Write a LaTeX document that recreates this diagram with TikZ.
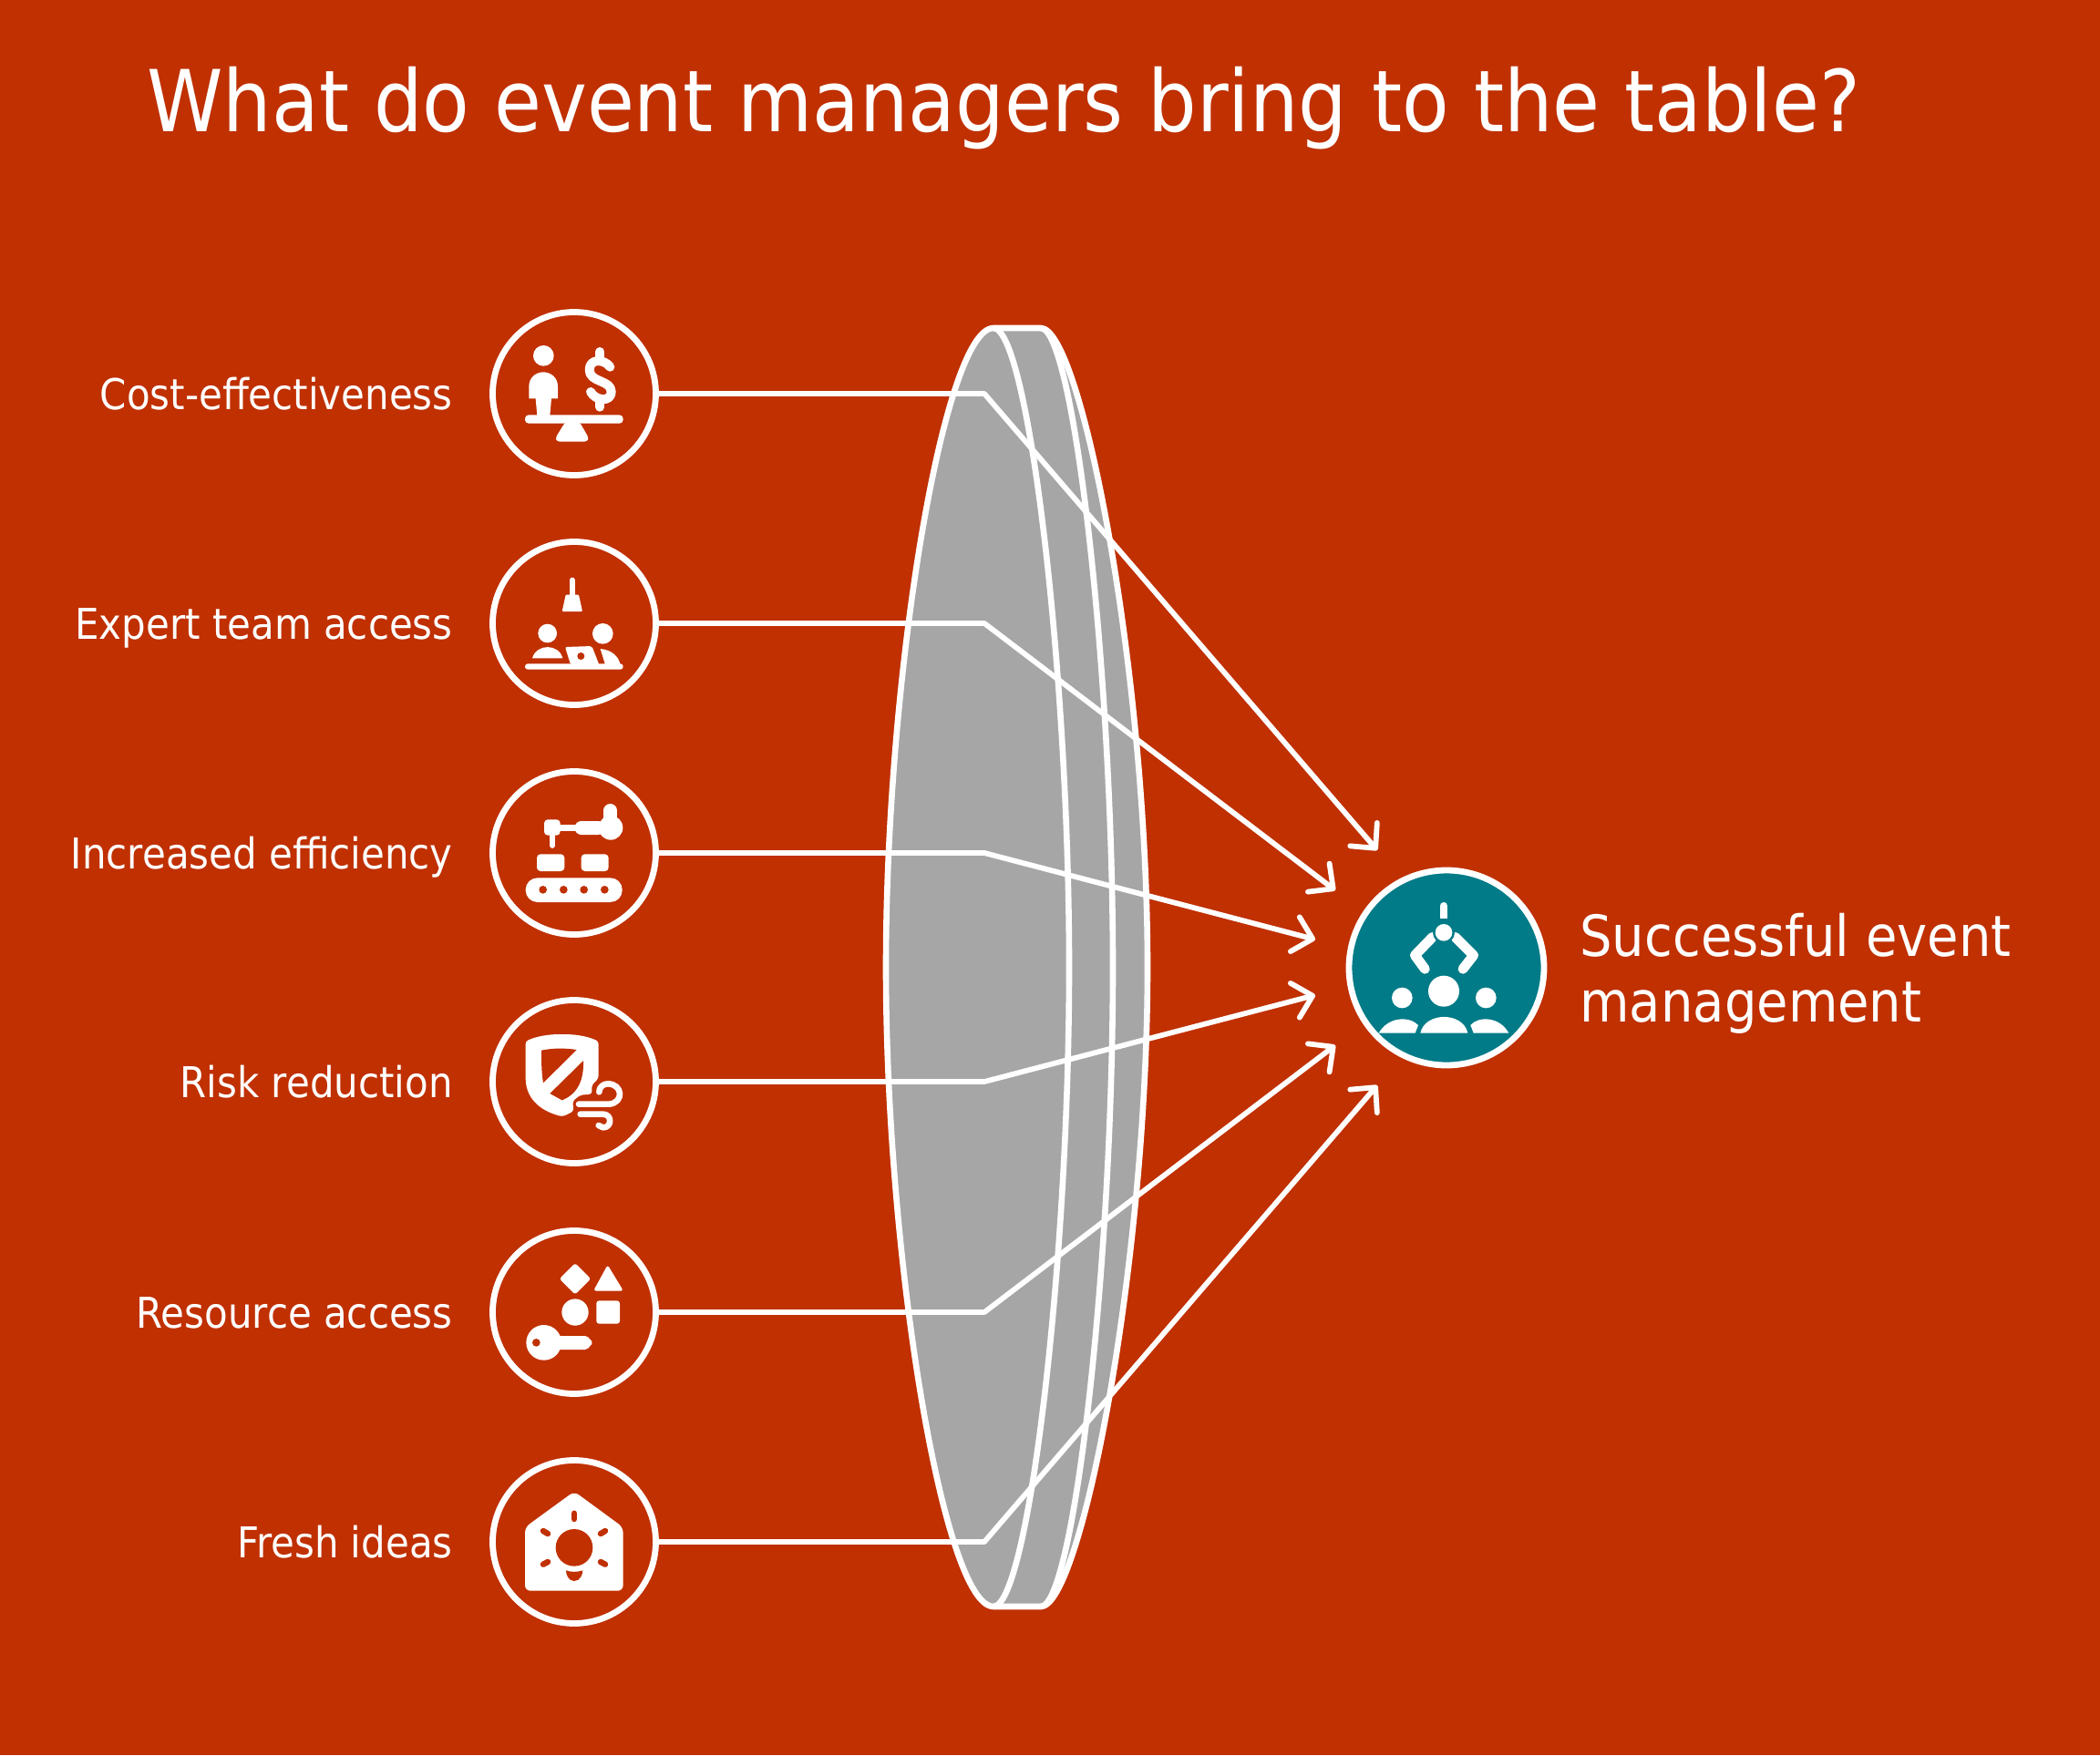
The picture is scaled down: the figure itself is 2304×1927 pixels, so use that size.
\documentclass[tikz,border=0pt]{standalone}
\usepackage{fontspec}
\usepackage{xcolor}
\usetikzlibrary{arrows.meta}
\setmainfont{DejaVu Sans}[FakeStretch=0.9]
\definecolor{bgred}{HTML}{C03000}
\definecolor{tealdisc}{HTML}{007B87}
\definecolor{lensgray}{HTML}{A6A6A6}
\tikzset{
    disc/.style={circle,draw=white,line width=3.4pt,inner sep=0pt,minimum size=89.5pt},
    factor/.style={anchor=base east,text=white,inner sep=0pt,font=\fontsize{23.3}{28}\selectfont},
    lens/.style={draw=white,line width=3.3pt,line join=round},
    link/.style={draw=white,line width=2.9pt,line join=round,
        -{Straight Barb[length=10pt,width=19.5pt,round]}},
    crop/.style 2 args={shift={(#1,#2)},x=0.16667pt,y=-0.16667pt},
    ink/.style={fill=white,draw=none},
    hole/.style={fill=#1,draw=none},
    hole/.default=bgred,
    pen/.style={draw=white,line width=#1,line cap=round,line join=round},
    gap/.style={draw=bgred,line width=#1,line cap=round},
}
\begin{document}
\begin{tikzpicture}[x=0.5pt,y=-0.5pt]
    \useasboundingbox (0,0) rectangle (2304,1927);
    \fill[white] (0,0) rectangle (2304,1927);
    \fill[bgred] (0,0) rectangle (2304,1926);

    \node[anchor=base west,text=white,inner sep=0pt,font=\fontsize{46.9}{56}\selectfont] (title) at (161,144) {What do event managers bring to the table?};

    % lens
    \path[lens,fill=lensgray] (1090,360) .. controls (1036,360) and (972,738) .. (972,1061.5) .. controls (972,1385) and (1036,1763) .. (1090,1763) -- (1142,1763) .. controls (1186,1763) and (1259,1385) .. (1259,1061.5) .. controls (1259,738) and (1186,360) .. (1142,360) -- cycle;
    \draw[lens] (1090,360) .. controls (1128,360) and (1173,738) .. (1173,1061.5) .. controls (1173,1385) and (1128,1763) .. (1090,1763);
    \draw[lens] (1142,360) .. controls (1178,360) and (1221,738) .. (1221,1061.5) .. controls (1221,1385) and (1178,1763) .. (1142,1763);

    % discs and labels
    \node[disc] (cost) at (630,432) {};
    \node[disc] (expert) at (630,684) {};
    \node[disc] (efficiency) at (630,936) {};
    \node[disc] (risk) at (630,1187) {};
    \node[disc] (resource) at (630,1440) {};
    \node[disc] (fresh) at (630,1692) {};
    \node[disc,fill=tealdisc,minimum size=107pt] (success) at (1587,1062) {};

    \node[factor] (costlabel) at (497,449) {Cost-effectiveness};
    \node[factor] (expertlabel) at (497,701) {Expert team access};
    \node[factor] (efficiencylabel) at (497,953) {Increased efficiency};
    \node[factor] (risklabel) at (497,1204) {Risk reduction};
    \node[factor] (resourcelabel) at (497,1457) {Resource access};
    \node[factor] (freshlabel) at (497,1709) {Fresh ideas};
    \node[anchor=base west,text=white,inner sep=0pt,align=left,font=\fontsize{31.1}{35.9}\selectfont] (successlabel) at (1733,1121) {Successful event\\management};

    % connectors
    \coordinate (costbend) at (1080,432);
    \coordinate (expertbend) at (1080,684);
    \coordinate (efficiencybend) at (1080,936);
    \coordinate (riskbend) at (1080,1187);
    \coordinate (resourcebend) at (1080,1440);
    \coordinate (freshbend) at (1080,1692);
    \coordinate (costtip) at (1511,933);
    \coordinate (experttip) at (1465,977);
    \coordinate (efficiencytip) at (1443,1031);
    \coordinate (risktip) at (1443,1092);
    \coordinate (resourcetip) at (1465,1147);
    \coordinate (freshtip) at (1511,1191);
    \draw[link] (cost.east) -- (costbend) -- (costtip);
    \draw[link] (expert.east) -- (expertbend) -- (experttip);
    \draw[link] (efficiency.east) -- (efficiencybend) -- (efficiencytip);
    \draw[link] (risk.east) -- (riskbend) -- (risktip);
    \draw[link] (resource.east) -- (resourcebend) -- (resourcetip);
    \draw[link] (fresh.east) -- (freshbend) -- (freshtip);

    % cost icon
    \begin{scope}[crop={520}{320}]
        \fill[ink] (229,211) circle (34);
        \fill[ink] (181,352) -- (181,312) .. controls (181,282) and (205,265) .. (228,265) .. controls (252,265) and (276,282) .. (276,312) -- (276,352) -- (255,352) -- (250,408) -- (208,408) -- (203,352) -- cycle;
        \fill[ink,rounded corners=2pt] (168,406) rectangle (491,434);
        \fill[ink,rounded corners=1.5pt] (300,430) -- (348,430) -- (378,482) -- (372,494) -- (274,494) -- (268,482) -- cycle;
        \draw[pen=5pt] (448,248) .. controls (430,222) and (380,218) .. (380,258) .. controls (380,300) and (452,290) .. (452,330) .. controls (452,365) and (400,360) .. (384,330);
        \draw[pen=5pt] (415,198) -- (415,222);
        \draw[pen=5pt] (415,358) -- (415,380);
    \end{scope}

    % expert icon
    \begin{scope}[crop={520}{320}]
        \draw[pen=3pt] (323,950) -- (323,1005);
        \fill[ink,rounded corners=0.5pt] (302,998) -- (345,998) -- (357,1053) -- (290,1053) -- cycle;
        \fill[ink] (242,1125) circle (31);
        \fill[ink] (192,1207) .. controls (205,1158) and (280,1158) .. (292,1207) -- cycle;
        \fill[ink] (424,1126) circle (34);
        \fill[ink] (416,1176) .. controls (455,1180) and (475,1200) .. (482,1228) -- (432,1228) -- cycle;
        \fill[ink,rounded corners=1pt] (300,1170) -- (388,1167) -- (412,1228) -- (318,1228) -- cycle;
        \fill[hole] (352,1200) circle (12);
        \fill[ink,rounded corners=1.5pt] (168,1225) rectangle (491,1244);
    \end{scope}

    % efficiency icon
    \begin{scope}[crop={520}{820}]
        \fill[ink,rounded corners=6.5pt] (170,430) rectangle (488,510);
        \fill[hole] (227,469) circle (13);
        \fill[hole] (295,469) circle (13);
        \fill[hole] (362,469) circle (13);
        \fill[hole] (430,469) circle (13);
        \fill[ink,rounded corners=2pt] (207,408) -- (207,352) -- (298,352) -- (298,408) -- cycle;
        \fill[ink,rounded corners=2pt] (353,408) -- (353,352) -- (443,352) -- (443,408) -- cycle;
        \fill[ink,rounded corners=2pt] (231,238) rectangle (284,290);
        \draw[pen=3.2pt] (258,285) -- (258,323);
        \fill[ink] (280,256) rectangle (340,276);
        \fill[ink,rounded corners=3.5pt] (332,243) rectangle (430,288);
        \fill[ink] (450,265) circle (40);
        \draw[pen=7.3pt] (449,208) -- (449,250);
    \end{scope}

    % risk icon
    \begin{scope}[crop={520}{820}]
        \fill[ink,rounded corners=1.5pt] (170,968) .. controls (210,950) and (250,945) .. (290,945) .. controls (330,945) and (370,950) .. (410,968) -- (410,1090) -- (388,1112) -- (388,1142) -- (350,1145) -- (325,1165) -- (328,1198) -- (292,1216) .. controls (210,1195) and (170,1150) .. (170,1080) -- cycle;
        \fill[hole] (222,998) .. controls (260,990) and (300,990) .. (338,996) -- (228,1105) .. controls (222,1070) and (222,1030) .. (222,998) -- cycle;
        \fill[hole] (360,1032) .. controls (362,1090) and (345,1140) .. (290,1162) -- (250,1140) -- cycle;
        \draw[pen=3.3pt] (345,1175) -- (445,1175) .. controls (495,1170) and (490,1108) .. (440,1108) .. controls (425,1108) and (412,1120) .. (412,1135);
        \draw[pen=3.3pt] (350,1208) -- (425,1208) .. controls (455,1208) and (455,1252) .. (425,1252) -- (410,1245);
    \end{scope}

    % resource icon
    \begin{scope}[crop={520}{1320}]
        \fill[ink,rounded corners=1.5pt] (333,198) -- (385,250) -- (333,302) -- (281,250) -- cycle;
        \fill[ink,rounded corners=1.5pt] (440,204) -- (492,290) -- (393,290) -- cycle;
        \fill[ink] (333,360) circle (44);
        \fill[ink,rounded corners=1.5pt] (403,322) rectangle (480,398);
        \fill[ink] (230,460) circle (58);
        \fill[hole] (205,460) circle (13);
        \fill[ink,rounded corners=1pt] (270,438) -- (372,438) -- (392,460) -- (372,483) -- (270,483) -- cycle;
    \end{scope}

    % fresh icon
    \begin{scope}[crop={520}{1320}]
        \fill[ink,rounded corners=3pt] (330,950) -- (491,1068) -- (491,1277) -- (168,1277) -- (168,1068) -- cycle;
        \fill[hole] (330,1135) circle (61);
        \fill[hole] (303,1210) .. controls (303,1222) and (310,1245) .. (330,1245) .. controls (350,1245) and (358,1222) .. (358,1210) .. controls (340,1216) and (320,1216) .. (303,1210) -- cycle;
        \draw[gap=3.2pt] (330,1022) -- (330,1041);
        \draw[gap=3.2pt] (228,1080) -- (243,1089);
        \draw[gap=3.2pt] (432,1080) -- (417,1089);
        \draw[gap=3.2pt] (228,1190) -- (243,1182);
        \draw[gap=3.2pt] (432,1190) -- (417,1182);
    \end{scope}

    % success icon
    \begin{scope}[crop={1420}{880}]
        \draw[pen=4pt] (492,342) -- (492,372);
        \fill[ink] (480,372) rectangle (505,384);
        \draw[pen=5.4pt] (455,445) -- (397,505) -- (430,550);
        \draw[pen=5.4pt] (530,445) -- (590,505) -- (555,550);
        \fill[hole=tealdisc] (492,430) circle (36);
        \fill[ink] (492,430) circle (28);
        \fill[ink] (492,623) circle (51);
        \fill[ink] (355,645) circle (34);
        \fill[ink] (631,645) circle (34);
        \fill[ink] (415,761) .. controls (430,690) and (556,690) .. (571,761) -- cycle;
        \fill[ink] (278,761) .. controls (310,705) and (380,705) .. (408,735) -- (398,761) -- cycle;
        \fill[ink] (706,761) .. controls (675,705) and (605,705) .. (580,735) -- (590,761) -- cycle;
    \end{scope}
\end{tikzpicture}
\end{document}
